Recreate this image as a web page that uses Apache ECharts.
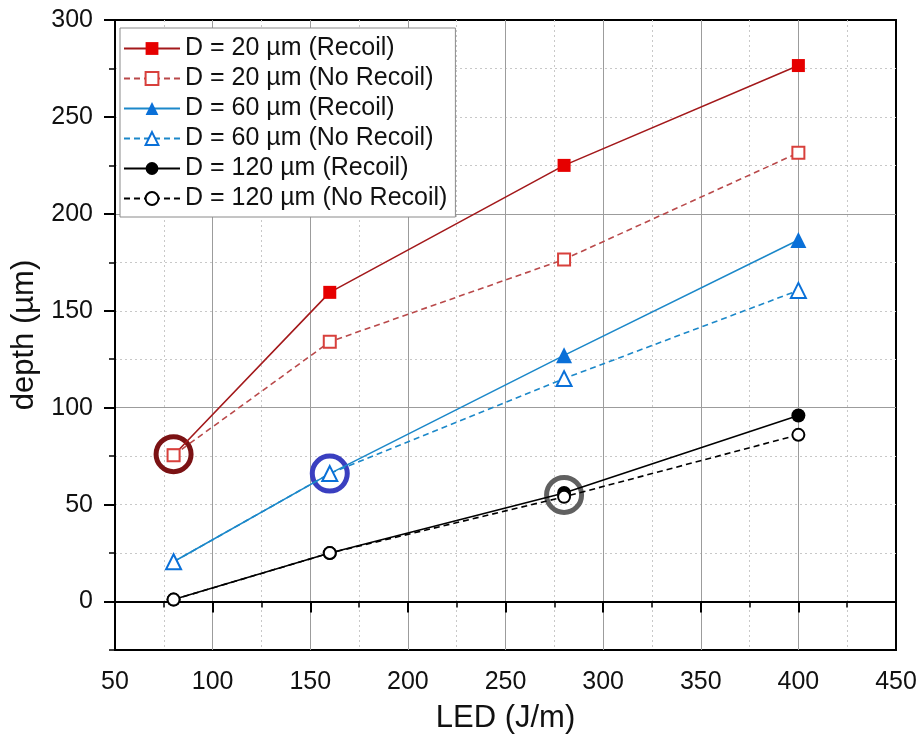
<!DOCTYPE html>
<html>
<head>
<meta charset="utf-8">
<script src="https://cdn.jsdelivr.net/npm/echarts@6/dist/echarts.min.js"></script>
<style>
  html, body { margin: 0; padding: 0; background: #fff; }
  #main { width: 921px; height: 751px; }
</style>
</head>
<body>
<div id="main"></div>
<script>
// data
const led = [80, 160, 280, 400]
const d20Recoil = [75.5, 159.5, 225, 276.5]
const d20NoRecoil = [75.5, 134, 176.5, 231.5]
const d60Recoil = [20.5, 66, 127, 186.5]
const d60NoRecoil = [20.5, 66, 115, 160.5]
const d120Recoil = [1, 25, 56, 96]
const d120NoRecoil = [1, 25, 54, 86]

// highlighted points (rings)
const ringX = [80, 160, 280]
const ringY = [76, 66, 55]
const ringColors = ["#7b1214", "#3a3fc0", "#606060"]

const xTicks = [50, 100, 150, 200, 250, 300, 350, 400, 450]
const yTicks = [0, 50, 100, 150, 200, 250, 300]

const font = "'Liberation Sans', Arial, sans-serif"
const pairs = arr => led.map((x, i) => [x, arr[i]])

const makeSeries = (name, data, lineColor, markColor, symbol, dashed, size) => ({
  name,
  type: "line",
  data: pairs(data),
  symbol,
  symbolSize: size,
  yAxisIndex: 1,
  lineStyle: { color: lineColor, width: 1.6, type: dashed ? [6, 4] : "solid" },
  itemStyle: { color: markColor, borderColor: markColor, borderWidth: symbol.startsWith("empty") ? 2.2 : 0 },
  emphasis: { disabled: true },
  animation: false
})

const series = [
  makeSeries("D = 20 µm (Recoil)", d20Recoil, "#a3191b", "#e60000", "rect", false, 13),
  makeSeries("D = 20 µm (No Recoil)", d20NoRecoil, "#b9494a", "#d8403c", "emptyRect", true, 12),
  makeSeries("D = 60 µm (Recoil)", d60Recoil, "#1c88c9", "#0a70d8", "triangle", false, 16),
  makeSeries("D = 60 µm (No Recoil)", d60NoRecoil, "#1c88c9", "#0a70d8", "emptyTriangle", true, 15),
  makeSeries("D = 120 µm (Recoil)", d120Recoil, "#000", "#000", "circle", false, 14),
  makeSeries("D = 120 µm (No Recoil)", d120NoRecoil, "#000", "#000", "emptyCircle", true, 12),
  {
    type: "scatter",
    yAxisIndex: 1,
    symbol: "circle",
    symbolSize: 35,
    silent: true,
    animation: false,
    data: ringX.map((x, i) => ({
      value: [x, ringY[i]],
      itemStyle: { color: "rgba(0,0,0,0)", borderColor: ringColors[i], borderWidth: 5, opacity: 1 }
    }))
  }
]

const options = {
  backgroundColor: "#fff",
  animation: false,
  textStyle: { fontFamily: font },
  grid: {
    left: 115, right: 25, top: 20, bottom: 101,
    show: true, borderColor: "#000", borderWidth: 2, backgroundColor: "#fff"
  },
  legend: {
    data: series.slice(0, 6).map(s => s.name),
    orient: "vertical",
    left: 120, top: 28,
    itemWidth: 56, itemHeight: 16, itemGap: 5,
    padding: [8, 8, 6, 3],
    borderColor: "#8a8a8a", borderWidth: 1,
    backgroundColor: "#fff",
    textStyle: { fontSize: 25, color: "#111", fontFamily: font }
  },
  xAxis: {
    type: "value",
    min: 50, max: 450, interval: 50,
    name: "LED (J/m)",
    nameLocation: "middle",
    nameGap: 53,
    nameTextStyle: { fontSize: 31, color: "#111", fontFamily: font },
    axisLine: { lineStyle: { color: "#000", width: 2 } },
    axisTick: { length: 11, lineStyle: { color: "#000", width: 2 } },
    minorTick: { show: true, splitNumber: 2, length: 6, lineStyle: { color: "#000", width: 1.5 } },
    axisLabel: { fontSize: 25, color: "#111", margin: 20, fontFamily: font,
      customValues: xTicks },
    splitLine: { show: true, showMaxLine: false, lineStyle: { color: "#9c9c9c", width: 1 } },
    minorSplitLine: { show: true, lineStyle: { color: "#c8c8c8", type: [2, 3], width: 1 } }
  },
  yAxis: [
    {
      // minor grid + minor ticks
      type: "value",
      position: "left",
      min: -25, max: 300, interval: 25,
      axisLine: { show: false },
      axisTick: { length: 6, lineStyle: { color: "#000", width: 1.5 } },
      axisLabel: { show: false },
      splitLine: { show: true, showMinLine: false, showMaxLine: false,
        lineStyle: { color: "#c8c8c8", type: [2, 3], width: 1 } }
    },
    {
      // major grid, ticks and labels
      type: "value",
      position: "left",
      min: -25, max: 300, interval: 25,
      name: "depth (µm)",
      nameLocation: "middle",
      nameGap: 66,
      nameTextStyle: { fontSize: 31, color: "#111", fontFamily: font },
      axisLine: { show: true, lineStyle: { color: "#000", width: 2 } },
      axisTick: { length: 11, customValues: yTicks, lineStyle: { color: "#000", width: 2 } },
      axisLabel: { fontSize: 25, color: "#111", margin: 22, fontFamily: font, customValues: yTicks },
      splitLine: { show: true, showMinLine: false, showMaxLine: false,
        lineStyle: { color: ["rgba(0,0,0,0)", "#9c9c9c"], width: 1 } }
    }
  ],
  series
}

// chart
const myChart = echarts.init(document.getElementById("main"))
myChart.setOption(options)
window.onresize = () => myChart.resize()
</script>
</body>
</html>
